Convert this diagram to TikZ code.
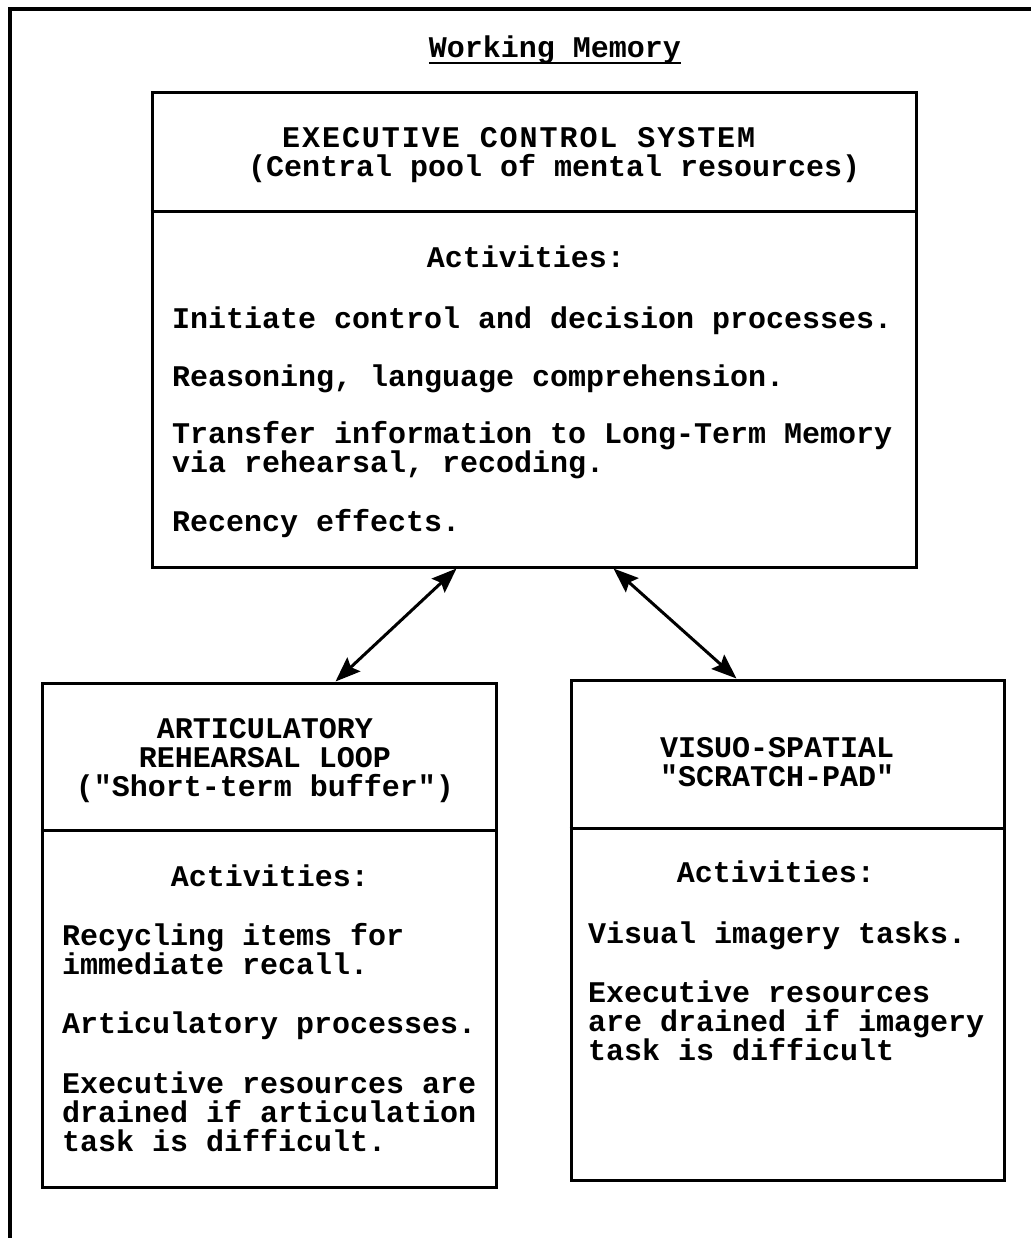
\documentclass[tikz,border=0pt]{standalone}
\usepackage{fontspec}
\newfontfamily\typer{Liberation Mono}
\usetikzlibrary{arrows.meta}

\begin{document}
\frenchspacing
\begin{tikzpicture}[x=1pt,y=-1pt,
  txt/.style={font=\typer\bfseries\fontsize{30}{29}\selectfont, inner sep=0pt, align=left},
  ctxt/.style={txt, align=center},
  frame/.style={line width=3.5pt},
  box/.style={draw, line width=3pt, rectangle, inner sep=0pt},
  divider/.style={line width=3pt},
  link/.style={line width=3pt, {Stealth[length=25pt,width=19pt,inset=4pt]}-{Stealth[length=25pt,width=19pt,inset=4pt]}}]
\useasboundingbox (0,0) rectangle (1031,1238);

% outer frame (open at right and bottom)
\draw[frame] (10,1238) -- (10,9) -- (1031,9);

% title
\node[txt, anchor=base] (wm) at (555,58) {Working Memory};
\draw[line width=2pt] ([yshift=-5pt]wm.base west) -- ([yshift=-5pt]wm.base east);

% boxes
\node[box, minimum width=764pt, minimum height=474pt] (ecs) at (534,330) {};
\node[box, minimum width=454pt, minimum height=504pt] (art) at (269,935) {};
\node[box, minimum width=433pt, minimum height=500pt] (vis) at (787.5,930) {};

\draw[divider] (ecs.west |- 0,212) -- (ecs.east |- 0,212);
\draw[divider] (art.west |- 0,830) -- (art.east |- 0,830);
\draw[divider] (vis.west |- 0,828) -- (vis.east |- 0,828);

% connectors
\draw[link] ([xshift=306pt]ecs.south west) -- ([xshift=295pt]art.north west);
\draw[link] ([xshift=463pt]ecs.south west) -- ([xshift=167pt]vis.north west);

% executive control system (anchors sit on the last line's baseline)
\node[txt, anchor=base west] (ecsT) at (248,177) {\hspace*{34pt}{\addfontfeature{LetterSpace=6.5}EXECUTIVE CONTROL SYSTEM}\\(Central pool of mental resources)};
\node[txt, anchor=base] (ecsA) at (526,268) {Activities:};
\node[txt, anchor=base west] (ecs1) at (172,328) {Initiate control and decision processes.};
\node[txt, anchor=base west] (ecs2) at (172,386) {Reasoning, language comprehension.};
\node[txt, anchor=base west] (ecs3) at (172,472) {Transfer information to Long-Term Memory\\via rehearsal, recoding.};
\node[txt, anchor=base west] (ecs4) at (172,531) {Recency effects.};

% articulatory rehearsal loop
\node[ctxt, anchor=base] (artT) at (265,796) {ARTICULATORY\\REHEARSAL LOOP\\("Short-term buffer")};
\node[txt, anchor=base] (artA) at (270,886) {Activities:};
\node[txt, anchor=base west] (art1) at (62,974) {Recycling items for\\immediate recall.};
\node[txt, anchor=base west] (art2) at (62,1033) {Articulatory processes.};
\node[txt, anchor=base west] (art3) at (62,1151) {Executive resources are\\drained if articulation\\task is difficult.};

% visuo-spatial scratch-pad
\node[txt, anchor=base west] (visT) at (660,786) {VISUO-SPATIAL\\"SCRATCH-PAD"};
\node[txt, anchor=base] (visA) at (776,882) {Activities:};
\node[txt, anchor=base west] (vis1) at (588,943) {Visual imagery tasks.};
\node[txt, anchor=base west] (vis2) at (588,1060) {Executive resources\\are drained if imagery\\task is difficult};
\end{tikzpicture}
\end{document}
